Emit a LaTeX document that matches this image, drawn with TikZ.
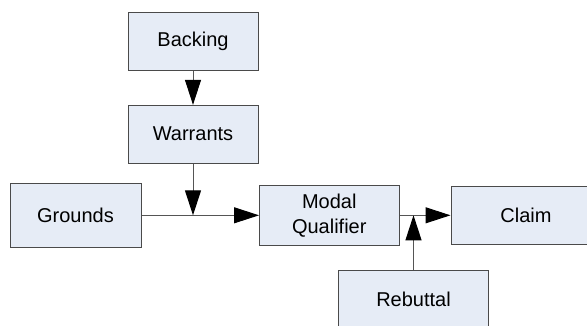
\documentclass[tikz,border=0pt]{standalone}
\usepackage{fontspec}
\setmainfont{Liberation Sans}
\usetikzlibrary{arrows.meta}
\definecolor{boxfill}{HTML}{E6ECF6}
\definecolor{boxline}{HTML}{4A4A4A}
\definecolor{conn}{HTML}{555555}
\begin{document}
\begin{tikzpicture}[x=1pt,y=-1pt,
  box/.style={draw=boxline,fill=boxfill,line width=1pt,rectangle,inner sep=0pt,
    font=\fontsize{20}{25}\selectfont,align=center},
  conline/.style={draw=conn,line width=1pt},
  tip/.style={-{Triangle[length=25pt,width=16pt,fill=black,color=black]}}]
\useasboundingbox (0,0) rectangle (587,325);
\clip (0,0) rectangle (587,325);
\fill[white] (0,0) rectangle (587,325);
\node[box,minimum width=130pt,minimum height=58pt] (backing) at (193,41.3) {Backing};
\node[box,minimum width=130pt,minimum height=57.7pt] (warrants) at (193,134.2) {Warrants};
\node[box,minimum width=131pt,minimum height=64pt] (grounds) at (75.5,215.3) {Grounds};
\node[box,minimum width=139.5pt,minimum height=60pt] (modal) at (329.25,215.3) {Modal\\Qualifier};
\node[box,minimum width=150pt,minimum height=58pt] (claim) at (526,215.3) {Claim};
\node[box,minimum width=150pt,minimum height=58pt] (rebuttal) at (413.5,299) {Rebuttal};
\coordinate (j1) at (warrants.south |- grounds.east);
\coordinate (j2) at (rebuttal.north |- modal.east);
\draw[conline] (grounds.east) -- (j1);
\draw[conline,tip] (j1) -- (modal.west);
\draw[conline,tip] (warrants.south) -- (j1);
\draw[conline,tip] (backing.south) -- (warrants.north);
\draw[conline] (modal.east) -- (j2);
\draw[conline,tip] (j2) -- (claim.west);
\draw[conline,tip] (rebuttal.north) -- (j2);
\end{tikzpicture}
\end{document}
